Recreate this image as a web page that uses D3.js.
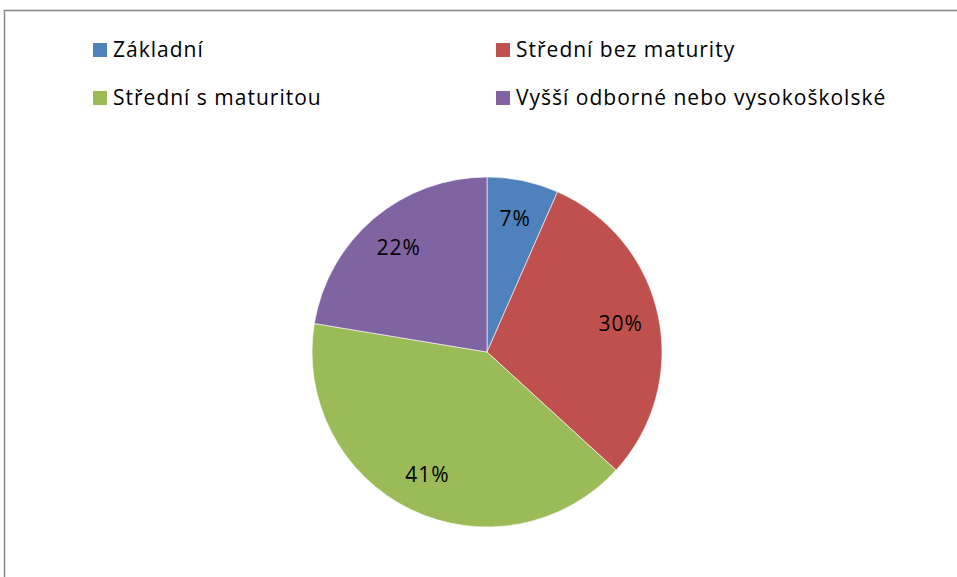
<!DOCTYPE html>
<html>
<head>
    <meta charset="utf-8">
    <title>Vzdělání</title>
    <style>
        html, body { margin: 0; padding: 0; background: #fff; }
        svg { display: block; font-family: "Open Sans", "DejaVu Sans", sans-serif; }
        .legend text { font-size: 21px; letter-spacing: 1px; fill: #000; }
        .pct { font-size: 21px; letter-spacing: 1px; fill: #000; text-anchor: middle; }
    </style>
    <script src="https://d3js.org/d3.v7.min.js"></script>
</head>
<body>
<svg id="chart"></svg>
<script>
const categories = ["Základní", "Střední bez maturity", "Střední s maturitou", "Vyšší odborné nebo vysokoškolské"];
const shares = [6.6, 30.2, 40.8, 22.4];
const colors = ["#4F81BD", "#C0504D", "#9BBB59", "#8064A2"];

const width = 957, height = 577;
const cx = 487, cy = 352, radius = 175;

const svg = d3.select("#chart").attr("width", width).attr("height", height);

// frame (right and bottom edges fall outside the picture)
svg.append("rect")
    .attr("x", 4.5).attr("y", 10.5)
    .attr("width", width + 10).attr("height", height + 10)
    .attr("fill", "none").attr("stroke", "#878787").attr("stroke-width", 1.5);

const data = categories.map((c, i) => ({ name: c, value: shares[i], color: colors[i] }));

const pie = d3.pie().value(d => d.value).sort(null);
const arc = d3.arc().innerRadius(0).outerRadius(radius);
const labelArc = d3.arc().innerRadius(radius * 0.78).outerRadius(radius * 0.78);

const g = svg.append("g").attr("transform", "translate(" + cx + "," + cy + ")");
const arcs = pie(data);

g.selectAll("path")
    .data(arcs)
    .enter().append("path")
    .attr("d", arc)
    .attr("fill", d => d.data.color)
    .attr("stroke", "#fff")
    .attr("stroke-opacity", 0.6)
    .attr("stroke-width", 1);

g.selectAll(".pct")
    .data(arcs)
    .enter().append("text")
    .attr("class", "pct")
    .attr("transform", d => "translate(" + labelArc.centroid(d) + ")")
    .attr("dy", "0.35em")
    .text(d => Math.round(d.data.value) + "%");

// legend: two columns
const legendX = d3.scaleOrdinal().domain([0, 1]).range([93, 496]);
const legendY = d3.scaleOrdinal().domain([0, 1]).range([50, 98]);

const legend = svg.append("g").attr("class", "legend")
    .selectAll("g")
    .data(data)
    .enter().append("g")
    .attr("transform", (d, i) => "translate(" + legendX(i % 2) + "," + legendY(Math.floor(i / 2)) + ")");

legend.append("rect")
    .attr("x", 0).attr("y", -7)
    .attr("width", 14).attr("height", 14)
    .attr("fill", d => d.color);

legend.append("text")
    .attr("x", 20).attr("y", 0)
    .attr("dy", "0.35em")
    .text(d => d.name);
</script>
</body>
</html>
